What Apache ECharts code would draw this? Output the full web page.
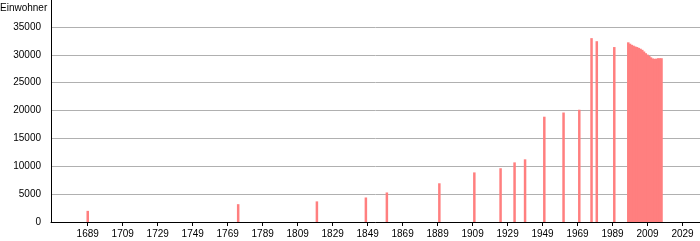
<!DOCTYPE html>
<html>
<head>
<meta charset="utf-8">
<script src="https://cdn.jsdelivr.net/npm/echarts@6/dist/echarts.min.js"></script>
<style>html,body{margin:0;padding:0;background:#fff}#c{width:700px;height:241px}</style>
</head>
<body>
<div id="c"></div>
<script>
var years = [1689, 1775, 1820, 1848, 1860, 1890, 1910, 1925, 1933, 1939, 1950, 1961, 1970, 1977, 1980, 1990,
  1998, 1999, 2000, 2001, 2002, 2003, 2004, 2005, 2006, 2007, 2008, 2009, 2010, 2011, 2012, 2013, 2014, 2015, 2016, 2017];
var values = [2000, 3200, 3700, 4400, 5300, 6950, 8900, 9650, 10700, 11250, 18900, 19650, 20150, 33000, 32450, 31400,
  32250, 32000, 31800, 31650, 31500, 31400, 31250, 31100, 30900, 30600, 30300, 30050, 29800, 29550, 29350, 29300, 29300, 29400, 29400, 29400];
var tickYears = [1689, 1709, 1729, 1749, 1769, 1789, 1809, 1829, 1849, 1869, 1889, 1909, 1929, 1949, 1969, 1989, 2009, 2029];
var yTicks = [0, 5000, 10000, 15000, 20000, 25000, 30000, 35000];
var yTitle = 'Einwohner';

var chart = echarts.init(document.getElementById('c'), null, {renderer: 'canvas'});
var font = 'Liberation Sans, Arial, sans-serif';
function plain(v) { return String(v); }
chart.setOption({
  animation: false,
  backgroundColor: '#fff',
  grid: {left: 51, right: 0, top: 27, bottom: 19, containLabel: false},
  xAxis: {
    type: 'value', min: 1668, max: 2039,
    axisLine: {show: true, onZero: false, lineStyle: {color: '#000', width: 1}},
    axisTick: {show: true, length: 4, lineStyle: {color: '#000'}, customValues: tickYears},
    axisLabel: {color: '#000', fontSize: 10, fontFamily: font, margin: 7, customValues: tickYears, formatter: plain},
    splitLine: {show: false}
  },
  yAxis: {
    type: 'value', min: yTicks[0], max: yTicks[yTicks.length - 1], interval: 5000,
    axisLine: {show: true, lineStyle: {color: '#000', width: 1}},
    axisTick: {show: false},
    axisLabel: {color: '#000', fontSize: 10, fontFamily: font, margin: 10, formatter: plain},
    splitLine: {show: true, lineStyle: {color: '#b0b0b0', width: 1}}
  },
  graphic: [
    {type: 'line', shape: {x1: 51.5, y1: 0, x2: 51.5, y2: 27}, style: {stroke: '#000', lineWidth: 1}, z: 10},
    {type: 'text', left: 0, top: 3, style: {text: yTitle, fill: '#000', fontSize: 10, fontFamily: font}}
  ],
  series: [{
    type: 'bar',
    barWidth: 2.5,
    itemStyle: {color: '#ff7f7f'},
    data: years.map(function (y, i) { return [y, values[i]]; })
  }]
});
</script>
</body>
</html>
